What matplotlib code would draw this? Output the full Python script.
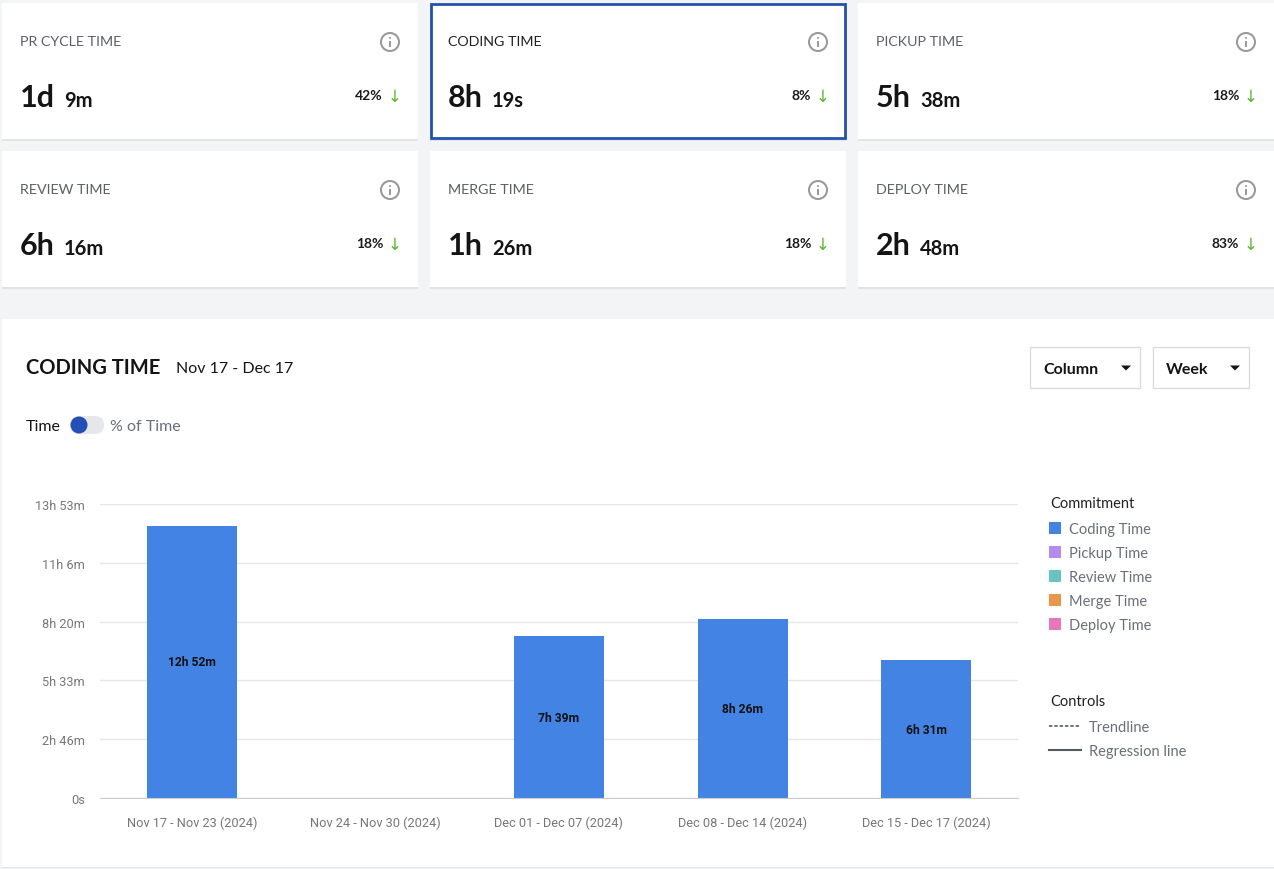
import matplotlib
matplotlib.use("Agg")
import matplotlib.pyplot as plt
from matplotlib.patches import Rectangle, FancyBboxPatch, Circle, Polygon
from matplotlib.ticker import FuncFormatter, MultipleLocator

W, H = 1274, 870

# summary cards
card_titles = ["PR CYCLE TIME", "CODING TIME", "PICKUP TIME",
               "REVIEW TIME", "MERGE TIME", "DEPLOY TIME"]
card_big = ["1d", "8h", "5h", "6h", "1h", "2h"]
card_small = ["9m", "19s", "38m", "16m", "26m", "48m"]
card_change = ["42%", "8%", "18%", "18%", "18%", "83%"]

# chart data (seconds)
weeks = ["Nov 17 - Nov 23 (2024)", "Nov 24 - Nov 30 (2024)", "Dec 01 - Dec 07 (2024)",
         "Dec 08 - Dec 14 (2024)", "Dec 15 - Dec 17 (2024)"]
coding_secs = [12*3600 + 52*60, 0, 7*3600 + 39*60, 8*3600 + 26*60, 6*3600 + 31*60]

legend_names = ["Coding Time", "Pickup Time", "Review Time", "Merge Time", "Deploy Time"]
legend_colors = ["#4383e3", "#b48ced", "#67c5be", "#e8964b", "#e877b8"]

UI = ["Lato", "DejaVu Sans"]
CH = ["Roboto", "DejaVu Sans"]

fig = plt.figure(figsize=(W/100, H/100), dpi=100)
fig.patch.set_facecolor("#f3f4f6")

bg = fig.add_axes([0, 0, 1, 1])
bg.set_xlim(0, W)
bg.set_ylim(H, 0)
bg.axis("off")


def box(x0, y0, x1, y1, fc="white", ec="none", lw=0, z=1):
    bg.add_patch(Rectangle((x0, y0), x1-x0, y1-y0, facecolor=fc, edgecolor=ec, linewidth=lw, zorder=z))


def fmt_time(s):
    s = int(round(s))
    if s == 0:
        return "0s"
    h, m = s // 3600, (s % 3600) // 60
    if h and m:
        return f"{h}h {m}m"
    if h:
        return f"{h}h"
    return f"{m}m"


cols = [(2, 418), (430, 846), (858, 1274)]
rows = [(4, 140), (152, 288)]
for i in range(6):
    x0, x1 = cols[i % 3]
    y0, y1 = rows[i // 3]
    box(x0, y0 + 1.5, x1, y1 + 1.5, fc="#e2e3e6", z=1)
    if i == 1:
        box(x0 + 1, y0 + 1, x1 - 1, y1 - 1, fc="white", ec="#2450b0", lw=2, z=2)
    else:
        box(x0, y0, x1, y1, fc="white", z=2)
    tx = x0 + 18
    bg.text(tx, y0 + 38, card_titles[i], fontsize=10.3, family=UI,
            color="#222222" if i == 1 else "#5c5f66", va="center", zorder=3)
    t = bg.text(tx, y0 + 103, card_big[i], fontsize=22, family=UI, weight="bold",
                color="#141414", va="baseline", zorder=3)
    fig.canvas.draw()
    bb = t.get_window_extent()
    bg.text(tx + bb.width + 9, y0 + 103, card_small[i], fontsize=14.5, family=UI,
            weight="bold", color="#141414", va="baseline", zorder=3)
    bg.text(x1 - 35, y0 + 92, card_change[i], fontsize=10, family=UI, weight="bold",
            color="#1a1a1a", ha="right", va="center", zorder=3)
    bg.text(x1 - 23, y0 + 93, "\u2193", fontsize=12, family=["DejaVu Sans"],
            color="#5cb82e", ha="center", va="center", zorder=3)
    cx, cy = x1 - 28, y0 + 39
    bg.add_patch(Circle((cx, cy), 9, facecolor="none", edgecolor="#9b9b9b",
                        linewidth=1.5, zorder=3))
    bg.plot([cx, cx], [cy - 1, cy + 4.5], color="#9b9b9b", lw=1.5,
            solid_capstyle="butt", zorder=3)
    bg.add_patch(Circle((cx, cy - 4), 1, facecolor="#9b9b9b", edgecolor="none", zorder=3))

# chart panel
box(2, 321.5, 1274, 869.5, fc="#e2e3e6", z=1)
box(2, 320, 1274, 868, fc="white", z=2)
bg.text(26, 368, "CODING TIME", fontsize=14.5, family=UI, weight="bold",
        color="#141414", va="center", zorder=3)
bg.text(176, 369, "Nov 17 - Dec 17", fontsize=11.5, family=UI, color="#141414",
        va="center", zorder=3)

# toggle
bg.text(26, 427, "Time", fontsize=11.5, family=UI, color="#141414", va="center", zorder=3)
bg.add_patch(FancyBboxPatch((70, 417), 34, 18, boxstyle="round,pad=0,rounding_size=9",
                            facecolor="#e6e7ea", edgecolor="none", zorder=3))
bg.add_patch(Circle((79, 426), 8.5, facecolor="#2350b5", edgecolor="none", zorder=4))
bg.text(110, 427, "% of Time", fontsize=11.5, family=UI, color="#6b6f78", va="center", zorder=3)

# dropdowns
for (x0, x1, label) in [(1030, 1140, "Column"), (1153, 1249, "Week")]:
    box(x0, 348, x1, 389, fc="white", ec="#dcdcdc", lw=1, z=3)
    bg.text(x0 + 13, 370, label, fontsize=11.5, family=UI, weight="bold",
            color="#141414", va="center", zorder=4)
    tri_x = x1 - 14
    bg.add_patch(Polygon([(tri_x - 5, 366.5), (tri_x + 5, 366.5), (tri_x, 371.5)],
                         closed=True, facecolor="#141414", edgecolor="none", zorder=4))

# legend
bg.text(1050, 504.5, "Commitment", fontsize=10.5, family=UI, color="#222222", va="center", zorder=3)
for k, (name, c) in enumerate(zip(legend_names, legend_colors)):
    yy = 529 + 24 * k
    box(1049, yy - 6, 1061, yy + 6, fc=c, z=3)
    bg.text(1069, yy + 1.5, name, fontsize=10.5, family=UI, color="#6b6f78", va="center", zorder=3)
bg.text(1050, 702.5, "Controls", fontsize=10.5, family=UI, color="#222222", va="center", zorder=3)
bg.plot([1049, 1081], [727, 727], color="#555a63", lw=1.2, ls=(0, (2, 1.2)), zorder=3)
bg.text(1089, 728.5, "Trendline", fontsize=10.5, family=UI, color="#6b6f78", va="center", zorder=3)
bg.plot([1049, 1081], [751, 751], color="#555a63", lw=1.5, zorder=3)
bg.text(1089, 752.5, "Regression line", fontsize=10.5, family=UI, color="#6b6f78",
        va="center", zorder=3)

# bar chart
ax = fig.add_axes([100/W, 1 - 799/H, 918/W, 294/H])
ax.set_facecolor("none")
x = range(len(weeks))
bars = ax.bar(x, coding_secs, width=0.49, color=legend_colors[0], zorder=3)
for b, v in zip(bars, coding_secs):
    if v > 0:
        ax.text(b.get_x() + b.get_width()/2, v/2, fmt_time(v), ha="center", va="center",
                fontsize=8.7, weight="bold", family=CH, color="#111111", zorder=4)
ax.set_xlim(-0.5, len(weeks) - 0.5)
ax.set_ylim(0, 50000)
ax.yaxis.set_major_locator(MultipleLocator(10000))
ax.yaxis.set_major_formatter(FuncFormatter(lambda v, p: fmt_time(v)))
ax.set_xticks(list(x))
ax.set_xticklabels(weeks)
ax.grid(axis="y", color="#e6e6e6", lw=1, zorder=0)
for s in ["top", "right", "left"]:
    ax.spines[s].set_visible(False)
ax.spines["bottom"].set_color("#cccccc")
ax.spines["bottom"].set_zorder(5)
ax.tick_params(axis="both", length=0, labelcolor="#777777", labelsize=9.2)
ax.tick_params(axis="y", pad=11)
ax.tick_params(axis="x", pad=13)
for lab in ax.get_xticklabels() + ax.get_yticklabels():
    lab.set_family(CH)

fig.savefig("out.png", dpi=100, facecolor=fig.get_facecolor())
